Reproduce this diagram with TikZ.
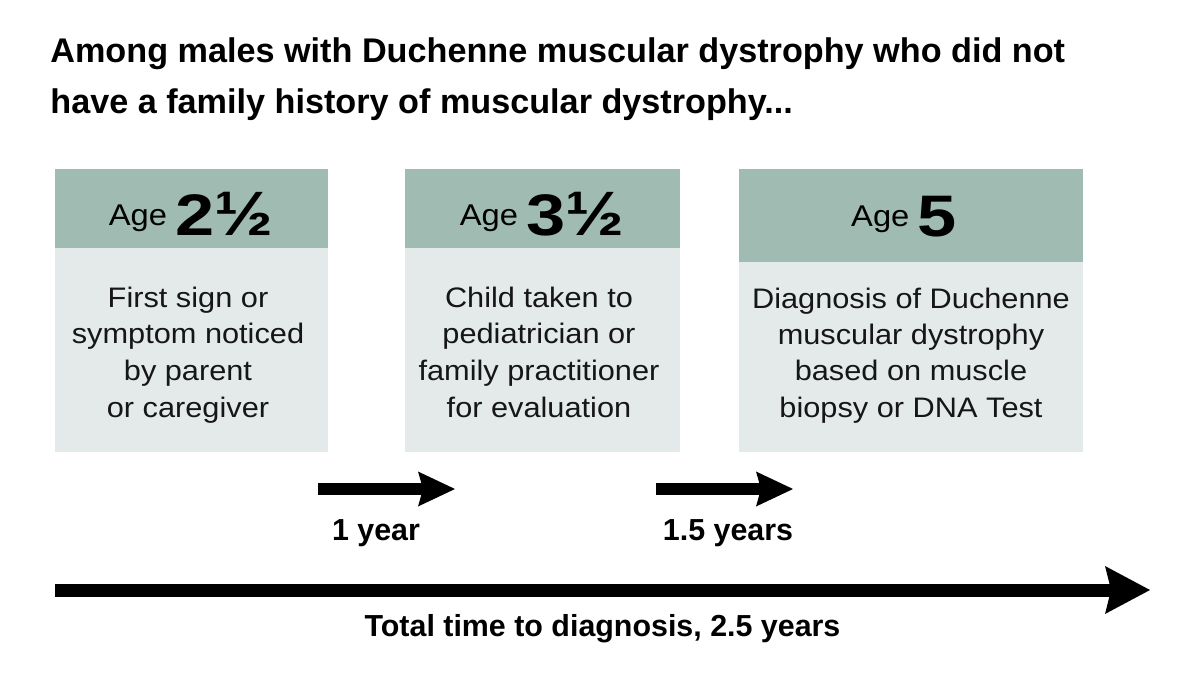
\documentclass[tikz,border=0pt]{standalone}
\usepackage{fontspec}
\setmainfont{Liberation Sans}
\usetikzlibrary{arrows.meta}
\definecolor{hdr}{HTML}{A0BBB1}
\definecolor{bdy}{HTML}{E4EAEA}
\definecolor{txt}{HTML}{161616}
\newcommand\mlines[1]{\scalebox{1.09}[1]{\begin{tabular}[t]{@{}c@{}}#1\end{tabular}}}
\newcommand\agehdr[2]{\raisebox{5pt}{\scalebox{1.09}[1]{Age}}\ {\fontsize{29.3}{30}\selectfont\bfseries\scalebox{1.2}[1]{#1}#2}}
\newcommand\fhalf{\scalebox{1.2}[1.07]{½}}
\begin{document}
\begin{tikzpicture}[x=0.5pt,y=-0.5pt,
  hdrbox/.style={fill=hdr, draw=none, inner sep=0pt, outer sep=0pt, anchor=north west},
  bdybox/.style={fill=bdy, draw=none, inner sep=0pt, outer sep=0pt, anchor=north west},
  agetext/.style={anchor=base, inner sep=0pt, text=black, font=\fontsize{15}{18}\selectfont},
  bodytext/.style={anchor=base, inner sep=0pt, text=txt},
  labeltext/.style={anchor=base, inner sep=0pt, text=black, font=\bfseries\fontsize{15.2}{18}\selectfont},
  shortarrow/.style={line width=6pt, -{Stealth[length=18.5pt, width=17.5pt, inset=2.5pt, line width=0pt]}},
  longarrow/.style={line width=6.5pt, -{Stealth[length=22.5pt, width=24pt, inset=3pt, line width=0pt]}}
]
\useasboundingbox (0,0) rectangle (1200,675);

% title
\node[anchor=base west, inner sep=0pt, font=\bfseries\fontsize{17.1}{25.5}\selectfont] (title) at (50,62)
  {\begin{tabular}[t]{@{}l@{}}Among males with Duchenne muscular dystrophy who did not\\have a family history of muscular dystrophy...\end{tabular}};

% box 1
\node[hdrbox, minimum width=136.5pt, minimum height=39.5pt] (h1) at (55,169) {};
\node[bdybox, minimum width=136.5pt, minimum height=102pt] (b1) at (55,248) {};
\node[agetext] (a1) at (191,235) {\agehdr{2}{\fhalf}};
\node[bodytext, font=\fontsize{14.1}{18.4}\selectfont] (t1) at (188,307)
  {\mlines{First sign or\\symptom noticed\\by parent\\or caregiver}};

% box 2
\node[hdrbox, minimum width=137.5pt, minimum height=39.5pt] (h2) at (405,169) {};
\node[bdybox, minimum width=137.5pt, minimum height=102pt] (b2) at (405,248) {};
\node[agetext] (a2) at (542,235) {\agehdr{3}{\fhalf}};
\node[bodytext, font=\fontsize{14.1}{18.4}\selectfont] (t2) at (539,307)
  {\mlines{Child taken to\\pediatrician or\\family practitioner\\for evaluation}};

% box 3
\node[hdrbox, minimum width=172pt, minimum height=46.5pt] (h3) at (739,169) {};
\node[bdybox, minimum width=172pt, minimum height=95pt] (b3) at (739,262) {};
\node[agetext] (a3) at (904,236) {\agehdr{5}{}};
\node[bodytext, font=\fontsize{14.1}{18.2}\selectfont] (t3) at (911,308)
  {\mlines{Diagnosis of Duchenne\\muscular dystrophy\\based on muscle\\biopsy or DNA Test}};

% arrows
\coordinate (s1) at (318,489);
\coordinate (e1) at (455,489);
\coordinate (s2) at (656,489);
\coordinate (e2) at (793,489);
\coordinate (s3) at (55,590);
\coordinate (e3) at (1150,590);
\draw[shortarrow] (s1) -- (e1);
\draw[shortarrow] (s2) -- (e2);
\draw[longarrow] (s3) -- (e3);

\node[labeltext] (l1) at (376,540) {1 year};
\node[labeltext] (l2) at (728,540) {1.5 years};
\node[labeltext] (l3) at (602.5,636) {Total time to diagnosis, 2.5 years};
\end{tikzpicture}
\end{document}
